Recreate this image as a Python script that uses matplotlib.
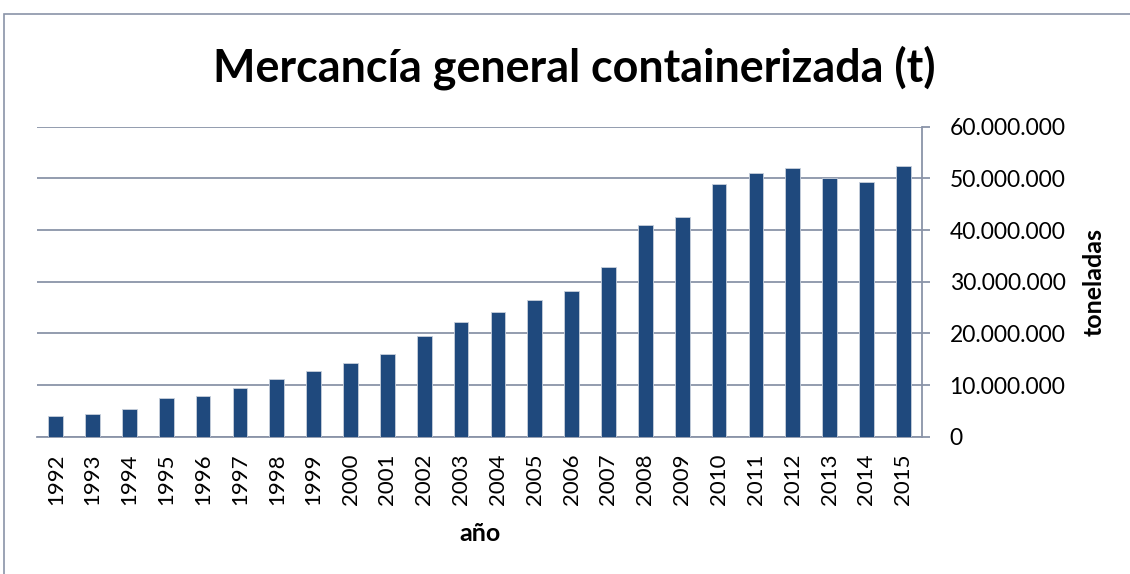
import matplotlib.pyplot as plt
from matplotlib.patches import Rectangle
from matplotlib.ticker import FuncFormatter

plt.rcParams['font.family'] = ['Lato', 'DejaVu Sans']

years = ['1992', '1993', '1994', '1995', '1996', '1997', '1998', '1999',
         '2000', '2001', '2002', '2003', '2004', '2005', '2006', '2007',
         '2008', '2009', '2010', '2011', '2012', '2013', '2014', '2015']
tons = [4.0e6, 4.3e6, 5.3e6, 7.5e6, 7.8e6, 9.35e6, 11.2e6, 12.8e6,
        14.3e6, 16.1e6, 19.5e6, 22.2e6, 24.1e6, 26.4e6, 28.2e6, 32.8e6,
        41.0e6, 42.6e6, 49.0e6, 51.0e6, 52.1e6, 50.0e6, 49.2e6, 52.4e6]

grid_col = '#8a94a8'
bar_col = '#1f497d'

fig = plt.figure(figsize=(11.3, 5.74), dpi=100)
# outer chart border
fig.patches.append(Rectangle((4 / 1130, -0.1), 1.2, 1 - 14 / 574 + 0.1,
                             transform=fig.transFigure, fill=False,
                             edgecolor=grid_col, linewidth=1.2))

ax = fig.add_axes([0.033, 0.2392, 0.7827, 0.5401])
x = range(len(years))
ax.bar(x, tons, width=0.4, color=bar_col, edgecolor='#c8d0dc',
       linewidth=0.6, zorder=3)

ax.set_xlim(-0.5, len(years) - 0.5)
ax.set_ylim(0, 60e6)
ax.set_yticks(range(0, 60000001, 10000000))
ax.yaxis.set_major_formatter(
    FuncFormatter(lambda v, p: f'{int(v):,}'.replace(',', '.')))
ax.yaxis.tick_right()
ax.yaxis.set_label_position('right')
ax.grid(axis='y', color=grid_col, linewidth=1.3, zorder=0)

ax.set_xticks(list(x))
ax.set_xticklabels(years, rotation=90, fontsize=16)
ax.tick_params(axis='x', length=0, pad=12)
ax.tick_params(axis='y', length=6, width=1.3, color=grid_col,
               labelsize=16.5, pad=14)

for s in ['left', 'top']:
    ax.spines[s].set_visible(False)
for s in ['right', 'bottom']:
    ax.spines[s].set_color(grid_col)
    ax.spines[s].set_linewidth(1.3)

ax.set_xlabel('año', fontsize=18, fontweight='bold', labelpad=12)
ax.set_ylabel('toneladas', fontsize=18, fontweight='bold', labelpad=12)

fig.text(0.508, 0.882, 'Mercancía general containerizada (t)',
         ha='center', va='center', fontsize=32.3, fontweight='bold')

fig.savefig('out.png', dpi=100)
